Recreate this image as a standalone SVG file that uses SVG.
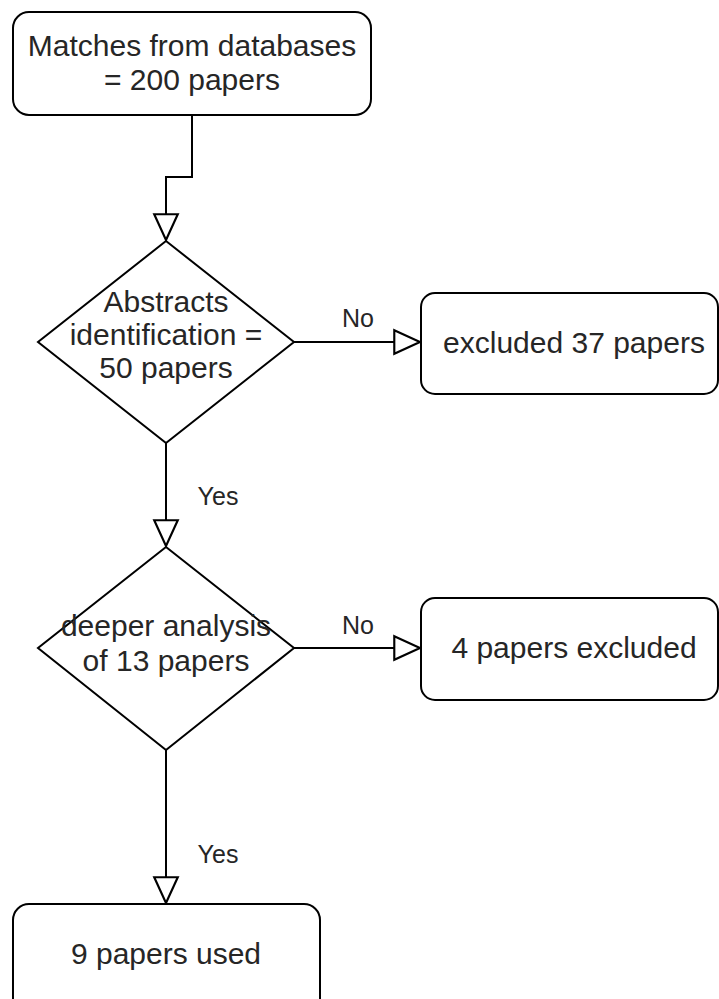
<svg xmlns="http://www.w3.org/2000/svg" width="719" height="999" viewBox="0 0 719 999">
<style>
.n{fill:#fff;stroke:#000;stroke-width:2}
.t{font-family:"Liberation Sans",Arial,sans-serif;font-size:30px;fill:#262626;text-anchor:middle}
.l{font-family:"Liberation Sans",Arial,sans-serif;font-size:25px;fill:#262626;text-anchor:middle}
.c{fill:none;stroke:#000;stroke-width:2}
</style>
<defs>
<marker id="a" markerUnits="userSpaceOnUse" markerWidth="30" markerHeight="30" viewBox="-26 -13 28 26" refX="0" refY="0" orient="auto">
<path d="M-24,-11 L0,0 L-24,11 Z" fill="#fff" stroke="#000" stroke-width="2"/>
</marker>
</defs>
<rect width="719" height="999" fill="#fff"/>
<g id="connectors">
<path class="c" d="M192,115 V177 H166 V240" marker-end="url(#a)"/>
<path class="c" d="M294,342 H420" marker-end="url(#a)"/>
<path class="c" d="M166,443 V546" marker-end="url(#a)"/>
<path class="c" d="M294,648 H420" marker-end="url(#a)"/>
<path class="c" d="M166,750 V903" marker-end="url(#a)"/>
<text class="l" x="358" y="327">No</text>
<text class="l" x="218" y="505">Yes</text>
<text class="l" x="358" y="634">No</text>
<text class="l" x="218" y="863">Yes</text>
</g>
<g id="start">
<rect class="n" x="13" y="12" width="358" height="103" rx="16"/>
<text class="t" x="192" y="56">Matches from databases</text>
<text class="t" x="192" y="90">= 200 papers</text>
</g>
<g id="abstracts">
<polygon class="n" points="166,241 294,342 166,443 38,342"/>
<text class="t" x="166" y="312">Abstracts</text>
<text class="t" x="166" y="345">identification =</text>
<text class="t" x="166" y="378">50 papers</text>
</g>
<g id="excluded37">
<rect class="n" x="421" y="293" width="297" height="101" rx="14"/>
<text class="t" x="574" y="353">excluded 37 papers</text>
</g>
<g id="deeper">
<polygon class="n" points="166,547 294,648 166,750 38,648"/>
<text class="t" x="166" y="636">deeper analysis</text>
<text class="t" x="166" y="671">of 13 papers</text>
</g>
<g id="excluded4">
<rect class="n" x="421" y="598" width="297" height="102" rx="14"/>
<text class="t" x="574" y="658">4 papers excluded</text>
</g>
<g id="used">
<rect class="n" x="13" y="904" width="307" height="120" rx="16"/>
<text class="t" x="166" y="964">9 papers used</text>
</g>
</svg>
